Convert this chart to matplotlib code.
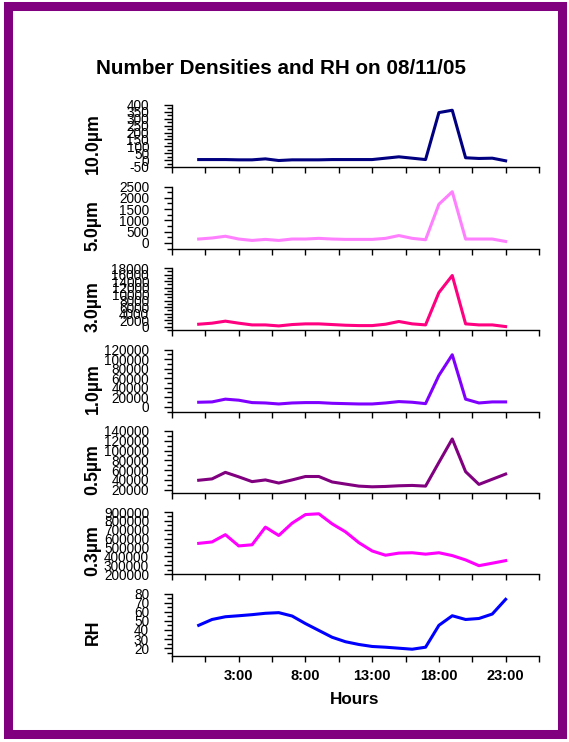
import matplotlib
matplotlib.use("Agg")
import matplotlib.pyplot as plt
import numpy as np
from matplotlib.ticker import MultipleLocator
from matplotlib.patches import Rectangle

plt.rcParams['font.family'] = ['Liberation Sans', 'DejaVu Sans']

hours = list(range(24))

d10 = [4, 4, 4, 2, 2, 9, -3, 2, 2, 2, 4, 4, 4, 4, 14, 24, 14, 4, 345, 362, 17, 12, 14, -5]
d5 = [170, 216, 293, 170, 108, 154, 108, 170, 170, 200, 170, 154, 154, 154, 200, 324, 200, 139, 1713, 2268, 170, 170, 170, 62]
d3 = [770, 1090, 1710, 1090, 560, 560, 250, 670, 880, 880, 670, 460, 350, 350, 770, 1610, 880, 560, 10480, 15700, 880, 560, 560, 50]
d1 = [9400, 10100, 15900, 13700, 8700, 7900, 5800, 7900, 8700, 8700, 7200, 6500, 5800, 5800, 7900, 10800, 9400, 6500, 65700, 109000, 15900, 7900, 10100, 10100]
d05 = [39100, 41900, 55300, 46100, 36300, 39800, 33400, 39800, 46800, 46800, 35600, 31300, 27100, 25700, 26400, 27800, 28500, 27100, 75700, 123700, 56700, 30600, 41200, 51800]
d03 = [546000, 562000, 644000, 517000, 530000, 729000, 635000, 774000, 871000, 880000, 766000, 676000, 554000, 460000, 412000, 436000, 440000, 424000, 440000, 408000, 359000, 294000, 322000, 351000]
rh = [45.1, 51.5, 54.5, 55.6, 56.8, 58.3, 59.0, 55.3, 47.0, 39.5, 32.0, 27.1, 24.1, 21.9, 21.1, 20.0, 18.9, 21.1, 45.1, 55.6, 51.5, 52.6, 57.5, 73.6]

labels = ["10.0\u00b5m", "5.0\u00b5m", "3.0\u00b5m", "1.0\u00b5m", "0.5\u00b5m", "0.3\u00b5m", "RH"]
series = [d10, d5, d3, d1, d05, d03, rh]
colors = ["#000080", "#FF80FF", "#FF0080", "#8000FF", "#800080", "#FF00FF", "#0000FF"]
ylims = [(-50, 400), (-250, 2500), (-1000, 18000), (-10000, 120000), (13000, 140000), (200000, 900000), (12, 80)]
yticks = [np.arange(-50, 401, 50), np.arange(0, 2501, 500), np.arange(0, 18001, 2000),
          np.arange(0, 120001, 20000), np.arange(20000, 140001, 20000),
          np.arange(200000, 900001, 100000), np.arange(20, 81, 10)]
xtick_labels = ["3:00", "8:00", "13:00", "18:00", "23:00"]
xtick_pos = [3, 8, 13, 18, 23]

W, H = 569, 742
fig = plt.figure(figsize=(W / 100, H / 100), dpi=100)
fig.patch.set_facecolor("white")

tops = [105, 186.5, 268, 349.5, 431, 512, 593.5]
ph = 62
left, right = 172, 539

for i in range(7):
    top = tops[i]
    ax = fig.add_axes([left / W, 1 - (top + ph) / H, (right - left) / W, ph / H])
    ax.plot(hours, series[i], color=colors[i], lw=2.2, solid_joinstyle='round')
    ax.set_xlim(-2, 25.5)
    ax.set_ylim(*ylims[i])
    for s in ['top', 'right']:
        ax.spines[s].set_visible(False)
    for s in ['left', 'bottom']:
        ax.spines[s].set_linewidth(1.0)
    ax.set_yticks(yticks[i])
    ax.set_yticklabels([str(int(v)) for v in yticks[i]], fontsize=9.8)
    step = yticks[i][1] - yticks[i][0]
    ax.yaxis.set_minor_locator(MultipleLocator(step / 2))
    ax.tick_params(axis='y', which='major', direction='out', length=6, width=1, pad=10.5)
    ax.tick_params(axis='y', which='minor', direction='out', length=3.5, width=1)
    allx = list(np.arange(-2, 25.6, 2.5))
    ax.set_xticks(allx)
    if i == 6:
        ax.set_xticklabels([xtick_labels[xtick_pos.index(int(round(v)))] if (abs(v - round(v)) < 1e-6 and int(round(v)) in xtick_pos) else "" for v in allx],
                           fontsize=10.5, fontweight='bold')
    else:
        ax.set_xticklabels([])
    ax.tick_params(axis='x', direction='out', length=4, width=1, pad=6)
    ax.set_facecolor('none')
    fig.text(93 / W, 1 - (top + ph / 2 + 8) / H, labels[i], rotation=90, ha='center', va='center',
             fontsize=12.8, fontweight='bold')

fig.text(281 / W, 1 - 68 / H, "Number Densities and RH on 08/11/05", ha='center', va='center',
         fontsize=14.9, fontweight='bold')
fig.text(355 / W, 1 - 700 / H, "Hours", ha='center', va='center', fontsize=12.3, fontweight='bold')

fig.patches.append(Rectangle((7.5 / W, 1 - 733.5 / H), (561.5 - 7.5) / W, (733.5 - 6) / H,
                             transform=fig.transFigure, fill=False, edgecolor="#800080", linewidth=6.5))

fig.savefig("out.png", dpi=100)
